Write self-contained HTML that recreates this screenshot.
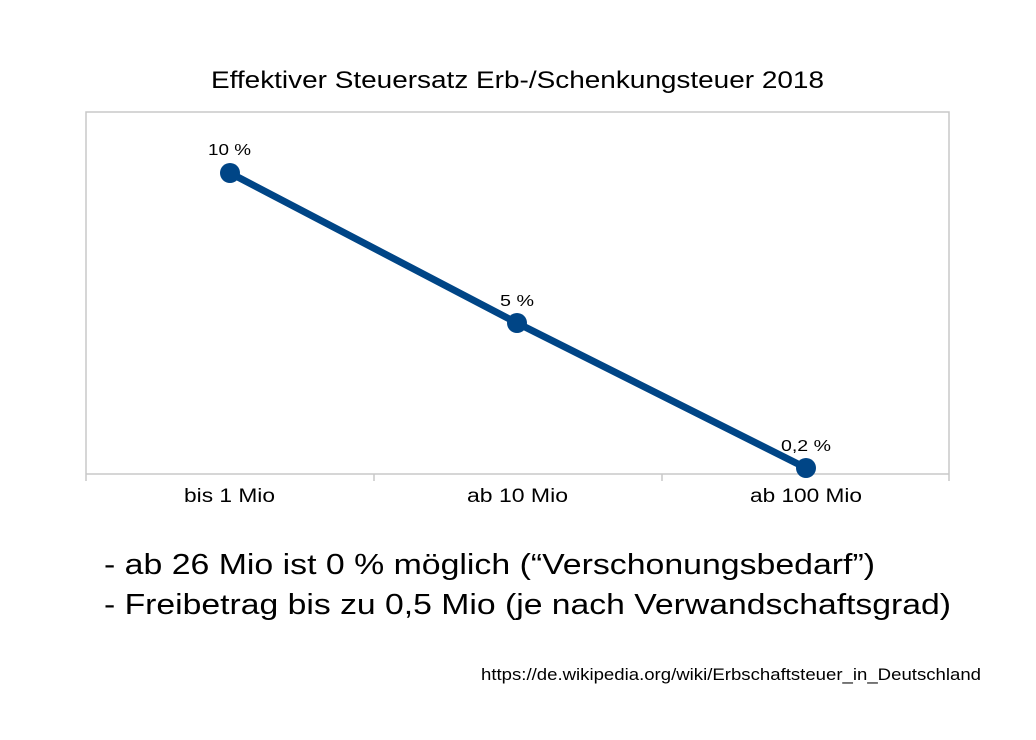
<!DOCTYPE html>
<html><head><meta charset="utf-8"><style>
body{margin:0;background:#fff;width:1036px;height:735px;overflow:hidden}
svg text{font-family:"Liberation Sans",sans-serif}
</style></head><body>
<svg width="1036" height="735" xmlns="http://www.w3.org/2000/svg">
<text x="211" y="88" font-size="24" textLength="613" lengthAdjust="spacingAndGlyphs" fill="#000">Effektiver Steuersatz Erb-/Schenkungsteuer 2018</text>
<polyline points="86,474 86,112 949,112 949,481" fill="none" stroke="#c8c8c8" stroke-width="1.5"/>
<line x1="86" y1="474" x2="949" y2="474" stroke="#c8c8c8" stroke-width="1.5"/>
<line x1="86" y1="474" x2="86" y2="481" stroke="#c8c8c8" stroke-width="1.5"/>
<line x1="374" y1="474" x2="374" y2="481" stroke="#c8c8c8" stroke-width="1.5"/>
<line x1="662" y1="474" x2="662" y2="481" stroke="#c8c8c8" stroke-width="1.5"/>
<polyline points="230,173 517,323 806,468" fill="none" stroke="#004586" stroke-width="7" stroke-linejoin="round"/>
<circle cx="230" cy="173" r="10" fill="#004586"/>
<circle cx="517" cy="323" r="10" fill="#004586"/>
<circle cx="806" cy="468" r="10" fill="#004586"/>
<text x="208" y="155" font-size="16" textLength="43" lengthAdjust="spacingAndGlyphs">10 %</text>
<text x="500" y="306" font-size="16" textLength="34" lengthAdjust="spacingAndGlyphs">5 %</text>
<text x="781" y="451" font-size="16" textLength="50" lengthAdjust="spacingAndGlyphs">0,2 %</text>
<text x="184" y="502" font-size="19" textLength="91" lengthAdjust="spacingAndGlyphs">bis 1 Mio</text>
<text x="467" y="502" font-size="19" textLength="101" lengthAdjust="spacingAndGlyphs">ab 10 Mio</text>
<text x="750" y="502" font-size="19" textLength="112" lengthAdjust="spacingAndGlyphs">ab 100 Mio</text>
<text x="104" y="574" font-size="29" textLength="771" lengthAdjust="spacingAndGlyphs">- ab 26 Mio ist 0 % möglich (“Verschonungsbedarf”)</text>
<text x="104" y="614" font-size="29" textLength="847" lengthAdjust="spacingAndGlyphs">- Freibetrag bis zu 0,5 Mio (je nach Verwandschaftsgrad)</text>
<text x="481" y="680" font-size="17" textLength="500" lengthAdjust="spacingAndGlyphs">https://de.wikipedia.org/wiki/Erbschaftsteuer_in_Deutschland</text>
</svg>
</body></html>
